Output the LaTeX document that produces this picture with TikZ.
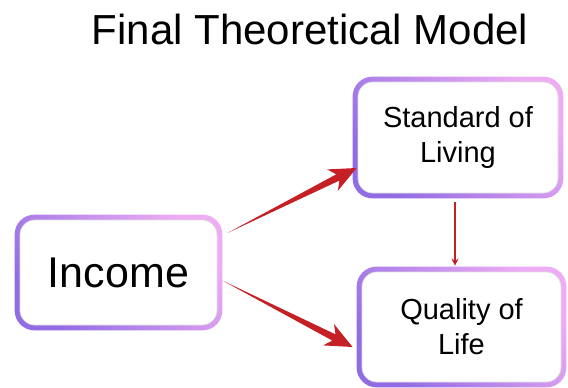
\documentclass[tikz,border=0pt]{standalone}
\usepackage{fontspec}
\setmainfont{Liberation Sans}
\usetikzlibrary{calc,backgrounds,arrows.meta}
\definecolor{FrameColorA}{RGB}{146,108,228}
\definecolor{FrameColorB}{RGB}{238,172,244}
\definecolor{ArrowColor}{RGB}{196,32,38}

% tapered arrow from #1 to #2
\newcommand{\taperarrow}[2]{%
  \coordinate (headbase) at ($(#2)!21pt!(#1)$);
  \coordinate (headback) at ($(#2)!27pt!(#1)$);
  \fill[ArrowColor] (#1) -- ($(headbase)!3.5pt!90:(#2)$) -- ($(headback)!12pt!90:(#2)$)
     -- (#2) -- ($(headback)!12pt!-90:(#2)$) -- ($(headbase)!3.5pt!-90:(#2)$) -- cycle;
}

\begin{document}
\begin{tikzpicture}[x=1pt,y=-1pt,
  box/.style={rectangle,fill=white,draw=black!13,line width=0.8pt,rounded corners=15pt,align=center,inner sep=0pt},
  frame/.style={rounded corners=20pt,top color=FrameColorB,bottom color=FrameColorA,shading angle=-50},
  link/.style={draw=ArrowColor,line width=1.1pt,-{Stealth[length=7pt,width=7pt]}}]
\useasboundingbox (0,0) rectangle (568,388);
\node[anchor=base,font=\fontsize{42}{50}\selectfont] (title) at (310,45) {Final Theoretical Model};
\node[box,minimum width=197,minimum height=105,font=\fontsize{43}{50}\selectfont] (inc) at (118.5,272.5) {Income};
\node[box,minimum width=200,minimum height=111,font=\fontsize{29}{35}\selectfont] (sol) at (458,137.5) {Standard of\\Living};
\node[box,minimum width=199,minimum height=110,font=\fontsize{29}{35}\selectfont] (qol) at (461.5,327) {Quality of\\Life};
\begin{scope}[on background layer]
\foreach \n in {inc,sol,qol} {
   \shade[frame] ([shift={(-5pt,-5pt)}]\n.south west) rectangle ([shift={(5pt,5pt)}]\n.north east);
}
\end{scope}
\coordinate (a1) at ([xshift=10pt,yshift=39.5pt]inc.east);
\coordinate (b1) at ([xshift=-1pt,yshift=-30.5pt]sol.west);
\coordinate (a2) at ([xshift=5pt,yshift=-8pt]inc.east);
\coordinate (b2) at ([xshift=-9pt,yshift=-20pt]qol.west);
\taperarrow{a1}{b1}
\taperarrow{a2}{b2}
\draw[link] ([xshift=-3pt,yshift=-9pt]sol.south) -- ([xshift=-3pt,yshift=6pt]sol.south |- qol.north);
\end{tikzpicture}
\end{document}
